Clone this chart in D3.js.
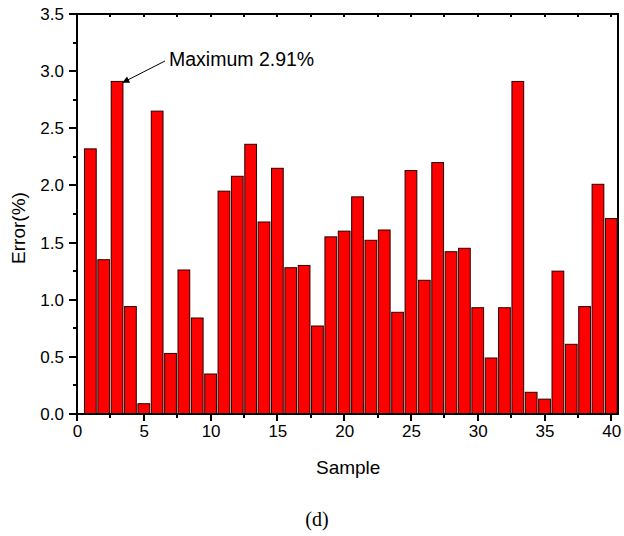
<!DOCTYPE html>
<html>
<head>
<meta charset="utf-8">
<script src="https://cdn.jsdelivr.net/npm/d3@7/dist/d3.min.js"></script>
<style>
  html, body { margin: 0; padding: 0; background: #fff; }
  svg { display: block; }
  text { font-family: Arial, "Liberation Sans", sans-serif; fill: #000; }
</style>
</head>
<body>
<script>
// Per-sample error values (%)
const samples = d3.range(1, 41);
const errors = [
  2.32, 1.35, 2.91, 0.94, 0.09, 2.65, 0.53, 1.26, 0.84, 0.35,
  1.95, 2.08, 2.36, 1.68, 2.15, 1.28, 1.30, 0.77, 1.55, 1.60,
  1.90, 1.52, 1.61, 0.89, 2.13, 1.17, 2.20, 1.42, 1.45, 0.93,
  0.49, 0.93, 2.91, 0.19, 0.13, 1.25, 0.61, 0.94, 2.01, 1.71
];
const xTicks = [0, 5, 10, 15, 20, 25, 30, 35, 40];
const yTicks = [0, 0.5, 1.0, 1.5, 2.0, 2.5, 3.0, 3.5];
const maxLabel = "Maximum 2.91%";

const W = 624, H = 536;
const m = { left: 77, top: 14, right: 6, bottom: 122 };
const iw = W - m.left - m.right, ih = H - m.top - m.bottom;

const svg = d3.select("body").append("svg").attr("width", W).attr("height", H);
const g = svg.append("g").attr("transform", `translate(${m.left},${m.top})`);

const x = d3.scaleLinear().domain([0, 40.5]).range([0, iw]);
const y = d3.scaleLinear().domain([0, 3.5]).range([ih, 0]);
const barW = x(0.88) - x(0);

// Bars
g.selectAll("rect.bar").data(samples).join("rect")
  .attr("class", "bar")
  .attr("x", d => x(d) - barW / 2)
  .attr("y", (d, i) => y(errors[i]))
  .attr("width", barW)
  .attr("height", (d, i) => y(0) - y(errors[i]))
  .attr("fill", "#ff0000")
  .attr("stroke", "#2a0000")
  .attr("stroke-width", 1);

// Tick labels from the axis generators (tick marks drawn separately below)
const gx = g.append("g").attr("transform", `translate(0,${ih})`)
  .call(d3.axisBottom(x).tickValues(xTicks).tickFormat(d3.format("d")).tickSize(0).tickPadding(11));
const gy = g.append("g")
  .call(d3.axisLeft(y).tickValues(yTicks).tickFormat(d3.format(".1f")).tickSize(0).tickPadding(13));
gx.selectAll("text").style("font-size", "17px");
gy.selectAll("text").style("font-size", "17px");
g.selectAll(".domain").remove();

const ink = "#000";
const tickLayer = g.append("g")
  .style("stroke", ink).style("stroke-width", "2px").style("shape-rendering", "crispEdges");

// Bottom ticks: majors every 5, minors halfway between (outward)
tickLayer.selectAll("line.xmaj").data(xTicks).join("line")
  .attr("class", "xmaj")
  .attr("x1", d => x(d)).attr("x2", d => x(d)).attr("y1", ih).attr("y2", ih + 7);
tickLayer.selectAll("line.xmin").data(d3.range(2.5, 40, 5)).join("line")
  .attr("class", "xmin")
  .attr("x1", d => x(d)).attr("x2", d => x(d)).attr("y1", ih).attr("y2", ih + 4);

// Left ticks: majors every 0.5, minors every 0.25 (outward)
tickLayer.selectAll("line.ymaj").data(yTicks).join("line")
  .attr("class", "ymaj")
  .attr("x1", -8).attr("x2", 0).attr("y1", d => y(d)).attr("y2", d => y(d));
tickLayer.selectAll("line.ymin").data(d3.range(0.25, 3.5, 0.5)).join("line")
  .attr("class", "ymin")
  .attr("x1", -4).attr("x2", 0).attr("y1", d => y(d)).attr("y2", d => y(d));

// Top ticks every 2.5 (inward)
tickLayer.selectAll("line.xtop").data(d3.range(2.5, 40.5, 2.5)).join("line")
  .attr("class", "xtop")
  .attr("x1", d => x(d)).attr("x2", d => x(d)).attr("y1", 0).attr("y2", 3);

// Frame
tickLayer.append("path")
  .attr("d", `M0,0H${iw}V${ih}H0Z`)
  .style("fill", "none");

// Axis titles
svg.append("text").attr("x", m.left + x(20.3)).attr("y", 474)
  .attr("text-anchor", "middle").style("font-size", "19px").text("Sample");
svg.append("text").attr("transform", `translate(25,${m.top + ih / 2 + 14}) rotate(-90)`)
  .attr("text-anchor", "middle").style("font-size", "19px").text("Error(%)");

// Panel caption
svg.append("text").attr("x", 317).attr("y", 526).attr("text-anchor", "middle")
  .style("font-family", "'Liberation Serif', 'Times New Roman', serif")
  .style("font-size", "20px").text("(d)");

// Annotation for the maximum bar
const iMax = errors.indexOf(d3.max(errors));
svg.append("defs").append("marker")
  .attr("id", "head").attr("viewBox", "0 0 10 10").attr("refX", 9).attr("refY", 5)
  .attr("markerWidth", 9).attr("markerHeight", 7).attr("markerUnits", "userSpaceOnUse")
  .attr("orient", "auto")
  .append("path").attr("d", "M0,0 L10,5 L0,10 Z").attr("fill", "#000");
const tipX = m.left + x(samples[iMax]) + barW / 2;
const tipY = m.top + y(errors[iMax]) + 1;
svg.append("line")
  .attr("x1", 165).attr("y1", 61).attr("x2", tipX).attr("y2", tipY)
  .attr("stroke", "#000").attr("stroke-width", 1).attr("marker-end", "url(#head)");
svg.append("text").attr("x", 169).attr("y", 66).style("font-size", "19.5px").text(maxLabel);
</script>
</body>
</html>
